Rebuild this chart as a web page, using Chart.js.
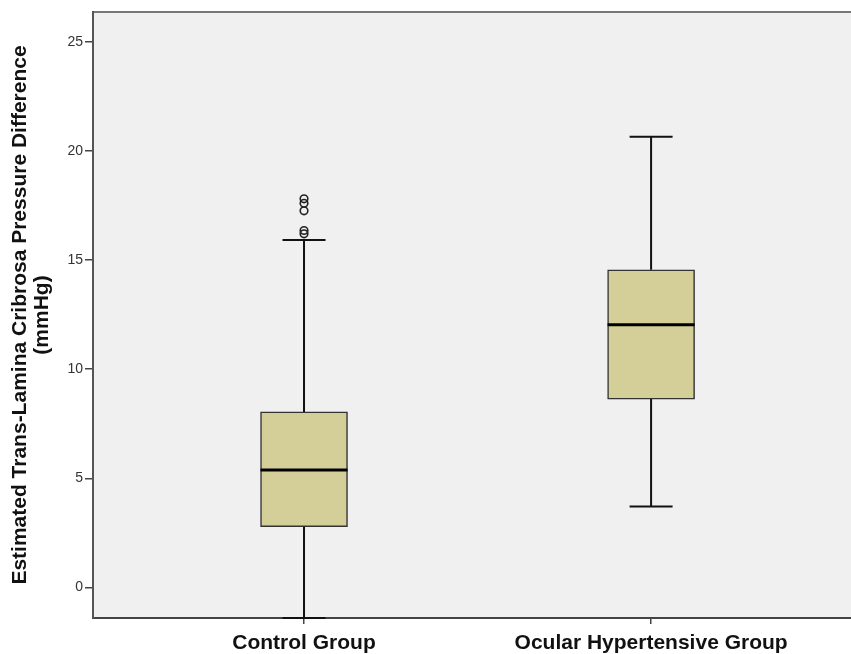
<!DOCTYPE html>
<html>
<head>
<meta charset="utf-8">
<script src="https://cdn.jsdelivr.net/npm/chart.js@4.4.0/dist/chart.umd.min.js"></script>
<style>
  html, body { margin: 0; padding: 0; background: #fff; }
  #wrap { width: 851px; height: 654px; }
</style>
</head>
<body>
<div id="wrap"><canvas id="c"></canvas></div>
<script>
// values
const groups = ['Control Group', 'Ocular Hypertensive Group'];
const groupPos = [1, 2];
const whiskerLow = [-1.4, 3.71];
const q1 = [2.78, 8.63];
const median = [5.38, 12.03];
const q3 = [8.04, 14.55];
const whiskerHigh = [15.92, 20.65];
const outliers = [[16.2, 16.35, 17.25, 17.6, 17.8], []];
const yTicks = [0, 5, 10, 15, 20, 25];

const FONT = "'Liberation Sans', Arial, sans-serif";

// grey plot background + top border
const plotBg = {
  id: 'plotBg',
  beforeDraw(chart) {
    const { ctx, chartArea: a } = chart;
    ctx.save();
    ctx.fillStyle = '#f0f0f0';
    ctx.fillRect(a.left, a.top, a.right - a.left, a.bottom - a.top);
    ctx.strokeStyle = '#777';
    ctx.lineWidth = 2;
    ctx.beginPath();
    ctx.moveTo(a.left, a.top);
    ctx.lineTo(a.right, a.top);
    ctx.stroke();
    ctx.restore();
  }
};

// whiskers, caps and median lines
const whiskers = {
  id: 'whiskers',
  afterDatasetsDraw(chart) {
    const { ctx, scales: { x, y } } = chart;
    ctx.save();
    groupPos.forEach((g, i) => {
      const cx = x.getPixelForValue(g);
      const capHalf = 21.5;
      const boxHalf = 43.5;
      ctx.strokeStyle = '#111';
      ctx.lineWidth = 2;
      ctx.beginPath();
      ctx.moveTo(cx, y.getPixelForValue(q3[i]));
      ctx.lineTo(cx, y.getPixelForValue(whiskerHigh[i]));
      ctx.moveTo(cx, y.getPixelForValue(q1[i]));
      ctx.lineTo(cx, y.getPixelForValue(whiskerLow[i]));
      ctx.moveTo(cx - capHalf, y.getPixelForValue(whiskerHigh[i]));
      ctx.lineTo(cx + capHalf, y.getPixelForValue(whiskerHigh[i]));
      ctx.moveTo(cx - capHalf, y.getPixelForValue(whiskerLow[i]));
      ctx.lineTo(cx + capHalf, y.getPixelForValue(whiskerLow[i]));
      ctx.stroke();
      ctx.lineWidth = 3;
      ctx.strokeStyle = '#000';
      ctx.beginPath();
      ctx.moveTo(cx - boxHalf, y.getPixelForValue(median[i]));
      ctx.lineTo(cx + boxHalf, y.getPixelForValue(median[i]));
      ctx.stroke();
    });
    ctx.restore();
  }
};

const outlierPoints = [];
outliers.forEach((list, i) => list.forEach(v => outlierPoints.push({ x: groupPos[i], y: v })));

new Chart(document.getElementById('c'), {
  type: 'scatter',
  data: {
    datasets: [
      {
        type: 'scatter',
        data: outlierPoints,
        pointStyle: 'circle',
        pointRadius: 3.8,
        borderColor: '#222',
        borderWidth: 1.6,
        backgroundColor: 'rgba(0,0,0,0)',
        order: 0
      },
      {
        type: 'bar',
        data: groupPos.map((g, i) => ({ x: g, y: [q1[i], q3[i]] })),
        backgroundColor: '#d4cf99',
        borderColor: '#333',
        borderWidth: 1.5,
        borderSkipped: false,
        barThickness: 87,
        order: 1
      }
    ]
  },
  options: {
    responsive: true,
    maintainAspectRatio: false,
    devicePixelRatio: 1,
    animation: false,
    layout: { autoPadding: false, padding: { top: 12, right: 0, left: 0, bottom: 0 } },
    plugins: { legend: { display: false }, tooltip: { enabled: false } },
    scales: {
      x: {
        type: 'linear',
        offset: false,
        min: 0.392,
        max: 2.576,
        afterBuildTicks(scale) { scale.ticks = groupPos.map(v => ({ value: v })); },
        afterFit(scale) { scale.height = 36; },
        ticks: {
          callback: v => groups[groupPos.indexOf(v)],
          font: { family: FONT, size: 21, weight: 'bold' },
          color: '#111',
          padding: 7,
          maxRotation: 0,
          autoSkip: false
        },
        grid: { drawOnChartArea: false, offset: false, tickLength: 6, tickColor: '#444', lineWidth: 1.5 },
        border: { color: '#444', width: 2 }
      },
      y: {
        min: -1.4,
        max: 26.36,
        afterBuildTicks(scale) { scale.ticks = yTicks.map(v => ({ value: v })); },
        afterFit(scale) { scale.width = 93; },
        ticks: {
          font: { family: FONT, size: 14 },
          color: '#333',
          padding: 2
        },
        grid: { drawOnChartArea: false, tickLength: 8, tickColor: '#444', lineWidth: 1.5 },
        border: { color: '#555', width: 2 },
        title: {
          display: true,
          text: ['Estimated Trans-Lamina Cribrosa Pressure Difference', '(mmHg)'],
          font: { family: FONT, size: 21, weight: 'bold', lineHeight: 1.05 },
          color: '#111',
          padding: { top: 9, bottom: 0 }
        }
      }
    }
  },
  plugins: [plotBg, whiskers]
});
</script>
</body>
</html>
